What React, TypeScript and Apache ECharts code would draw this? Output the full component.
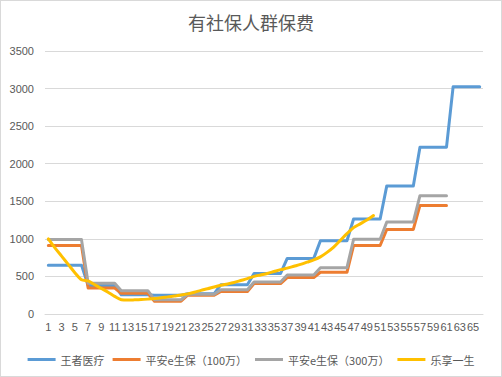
import React, { useEffect, useRef } from "react";
import * as echarts from "echarts";

const title = "有社保人群保费";

const categories = [
  "1","2","3","4","5","6","7","8","9","10","11","12","13","14","15","16","17","18","19","20",
  "21","22","23","24","25","26","27","28","29","30","31","32","33","34","35","36","37","38","39","40",
  "41","42","43","44","45","46","47","48","49","50","51","52","53","54","55","56","57","58","59","60",
  "61","62","63","64","65","66",
];

const seriesNames = ["王者医疗", "平安e生保（100万）", "平安e生保（300万）", "乐享一生"];

const wangzhe = [
  650, 650, 650, 650, 650, 650,
  380, 380, 380, 380, 380,
  255, 255, 255, 255, 255,
  250, 250, 250, 250, 250,
  270, 270, 270, 270, 270,
  390, 390, 390, 390, 390,
  540, 540, 540, 540, 540,
  740, 740, 740, 740, 740,
  975, 975, 975, 975, 975,
  1265, 1265, 1265, 1265, 1265,
  1705, 1705, 1705, 1705, 1705,
  2220, 2220, 2220, 2220, 2220,
  3025, 3025, 3025, 3025, 3025,
];

const pingan100 = [
  910, 910, 910, 910, 910, 910,
  345, 345, 345, 345, 345,
  275, 275, 275, 275, 275,
  170, 170, 170, 170, 170,
  250, 250, 250, 250, 250,
  300, 300, 300, 300, 300,
  405, 405, 405, 405, 405,
  485, 485, 485, 485, 485,
  555, 555, 555, 555, 555,
  912, 912, 912, 912, 912,
  1125, 1125, 1125, 1125, 1125,
  1445, 1445, 1445, 1445, 1445,
];

const pingan300 = [
  990, 990, 990, 990, 990, 990,
  410, 410, 410, 410, 410,
  310, 310, 310, 310, 310,
  190, 190, 190, 190, 190,
  262, 262, 262, 262, 262,
  322, 322, 322, 322, 322,
  427, 427, 427, 427, 427,
  520, 520, 520, 520, 520,
  617, 617, 617, 617, 617,
  995, 995, 995, 995, 995,
  1225, 1225, 1225, 1225, 1225,
  1575, 1575, 1575, 1575, 1575,
];

const lexiang = [
  1000, 880, 770, 660, 550, 455, 440, 390, 340, 290,
  235, 190, 185, 188, 192, 198, 205, 215, 228, 240,
  252, 268, 290, 315, 335, 360, 382, 400, 420, 445,
  470, 500, 520, 540, 565, 590, 610, 635, 660, 690,
  720, 760, 820, 890, 980, 1070, 1150, 1200, 1250, 1310,
];

const yTicks = { min: 0, max: 3500, interval: 500 };

const colors = ["#5B9BD5", "#ED7D31", "#A5A5A5", "#FFC000"];

export default function App() {
  const ref = useRef<HTMLDivElement>(null);
  useEffect(() => {
    document.body.style.margin = "0";
    if (!ref.current) return;
    const chart = echarts.init(ref.current, null, { renderer: "svg" });
    const datasets = [wangzhe, pingan100, pingan300, lexiang];
    chart.setOption({
      animation: false,
      backgroundColor: "#ffffff",
      color: colors,
      title: {
        text: title,
        left: "center",
        top: 7,
        textStyle: {
          fontSize: 18,
          fontWeight: "normal",
          color: "#595959",
          fontFamily: "Noto Sans CJK SC",
        },
      },
      grid: { left: 44, right: 18, top: 50, bottom: 62, containLabel: false },
      legend: {
        data: seriesNames,
        left: "center",
        top: 348,
        icon: "rect",
        itemWidth: 28,
        itemHeight: 3,
        itemGap: 8,
        textStyle: { fontSize: 11, color: "#595959", fontFamily: "Noto Sans CJK SC" },
      },
      xAxis: {
        type: "category",
        data: categories,
        boundaryGap: true,
        axisLine: { lineStyle: { color: "#D9D9D9" } },
        axisTick: { show: false },
        axisLabel: {
          interval: 1,
          fontSize: 11,
          color: "#595959",
          fontFamily: "Liberation Sans",
          margin: 7,
        },
      },
      yAxis: {
        type: "value",
        min: yTicks.min,
        max: yTicks.max,
        interval: yTicks.interval,
        axisLine: { show: false },
        axisTick: { show: false },
        splitLine: { lineStyle: { color: "#D9D9D9" } },
        axisLabel: {
          fontSize: 11,
          color: "#595959",
          fontFamily: "Liberation Sans",
          margin: 11,
          formatter: (v: number) => String(v),
        },
      },
      series: datasets.map((d, i) => ({
        name: seriesNames[i],
        type: "line",
        data: d,
        showSymbol: false,
        symbol: "none",
        smooth: i === 3 ? 0.3 : false,
        lineStyle: { width: 3, color: colors[i], cap: "round", join: "round" },
        itemStyle: { color: colors[i] },
      })),
    });
    return () => chart.dispose();
  }, []);
  return (
    <div
      ref={ref}
      style={{
        width: 502,
        height: 377,
        border: "1px solid #D9D9D9",
        boxSizing: "border-box",
      }}
    />
  );
}
